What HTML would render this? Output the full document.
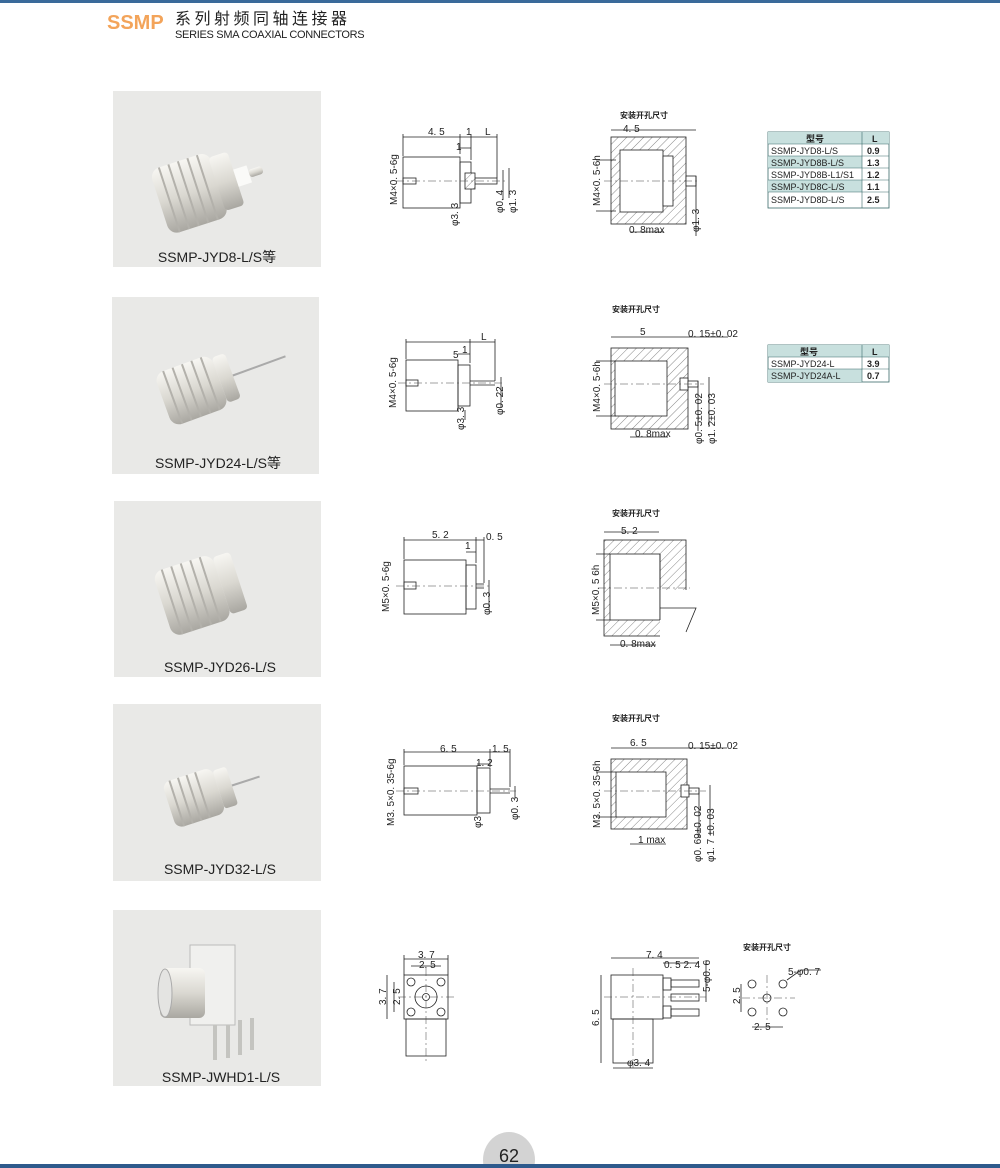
<!DOCTYPE html>
<html><head><meta charset="utf-8">
<style>
html,body{margin:0;padding:0;background:#fff;}
svg{display:block;}
text{font-family:"Liberation Sans","Noto Sans CJK SC",sans-serif;fill:#222;}
</style></head><body>
<svg width="1000" height="1168" viewBox="0 0 1000 1168" xmlns="http://www.w3.org/2000/svg">
<defs>
<pattern id="h" width="6" height="6" patternUnits="userSpaceOnUse" patternTransform="rotate(45)">
<rect width="6" height="6" fill="#fff"/><line x1="0" y1="0" x2="0" y2="6" stroke="#555" stroke-width="0.7"/></pattern>
<linearGradient id="met" x1="0" y1="0" x2="0" y2="1"><stop offset="0" stop-color="#f7f6f2"/><stop offset="0.5" stop-color="#dad8d1"/><stop offset="1" stop-color="#a9a7a1"/></linearGradient>
</defs>
<rect x="0" y="0" width="1000" height="3" fill="#3a6a9a"/>
<text x="107" y="29" font-size="20" font-weight="bold" style="fill:#f3a45a">SSMP</text>
<text x="175" y="24" font-size="16" letter-spacing="3.5">系列射频同轴连接器</text>
<text x="175" y="38" font-size="11" letter-spacing="-0.3">SERIES SMA  COAXIAL CONNECTORS</text>

<g>
<rect x="113" y="91" width="208" height="176" fill="#e9e9e7"/>
<rect x="112" y="297" width="207" height="177" fill="#e9e9e7"/>
<rect x="114" y="501" width="207" height="176" fill="#e9e9e7"/>
<rect x="113" y="704" width="208" height="177" fill="#e9e9e7"/>
<rect x="113" y="910" width="208" height="176" fill="#e9e9e7"/>
</g>
<g transform="translate(215,185) rotate(-18)">
<rect x="-58" y="-34" width="62" height="68" rx="10" fill="url(#met)"/>
<rect x="2" y="-28" width="20" height="56" rx="4" fill="url(#met)"/>
<rect x="22" y="-9" width="14" height="18" fill="#fafaf8"/><rect x="36" y="-4" width="14" height="8" rx="3" fill="url(#met)"/>
<g stroke="#b3b1ab" stroke-width="2" fill="none"><path d="M-48 -34v68M-38 -34v68M-28 -34v68M-18 -34v68M-8 -34v68"/></g>
</g>
<g transform="translate(215,382) rotate(-20)">
<rect x="-55" y="-28" width="60" height="56" rx="10" fill="url(#met)"/>
<rect x="5" y="-24" width="14" height="48" rx="4" fill="url(#met)"/>
<line x1="19" y1="0" x2="75" y2="0" stroke="#aaa" stroke-width="2"/>
<g stroke="#b3b1ab" stroke-width="2" fill="none"><path d="M-45 -28v56M-35 -28v56M-25 -28v56M-15 -28v56M-5 -28v56"/></g>
</g>
<g transform="translate(215,588) rotate(-18)">
<rect x="-55" y="-34" width="62" height="68" rx="10" fill="url(#met)"/>
<rect x="7" y="-30" width="18" height="60" rx="4" fill="url(#met)"/>
<g stroke="#b3b1ab" stroke-width="2" fill="none"><path d="M-45 -34v68M-35 -34v68M-25 -34v68M-15 -34v68M-5 -34v68"/></g>
</g>
<g transform="translate(212,792) rotate(-18)">
<rect x="-45" y="-24" width="52" height="48" rx="8" fill="url(#met)"/>
<rect x="7" y="-20" width="14" height="40" rx="3" fill="url(#met)"/>
<line x1="21" y1="0" x2="50" y2="0" stroke="#aaa" stroke-width="2"/>
<g stroke="#b3b1ab" stroke-width="2" fill="none"><path d="M-37 -24v48M-28 -24v48M-19 -24v48M-10 -24v48"/></g>
</g>
<g>
<rect x="190" y="945" width="45" height="80" fill="#f0f0ee" stroke="#bbb"/>
<rect x="160" y="968" width="45" height="50" rx="6" fill="url(#met)"/>
<ellipse cx="165" cy="993" rx="7" ry="24" fill="#e4e4e2" stroke="#aaa"/>
<g stroke="#c4c4c0" stroke-width="4"><line x1="215" y1="1025" x2="215" y2="1060"/><line x1="228" y1="1025" x2="228" y2="1058"/><line x1="240" y1="1020" x2="240" y2="1055"/><line x1="252" y1="1018" x2="252" y2="1050"/></g>
</g>
<g font-size="14" text-anchor="middle">
<text x="217" y="262">SSMP-JYD8-L/S等</text>
<text x="218" y="468">SSMP-JYD24-L/S等</text>
<text x="220" y="672">SSMP-JYD26-L/S</text>
<text x="220" y="874">SSMP-JYD32-L/S</text>
<text x="221" y="1082">SSMP-JWHD1-L/S</text>
</g>

<g fill="none" stroke="#222" stroke-width="0.8">
<rect x="403" y="157" width="57" height="51"/>
<rect x="403" y="178" width="13" height="6"/>
<rect x="460" y="162" width="11" height="41"/>
<rect x="471" y="178" width="26" height="6"/>
<rect x="465" y="173" width="10" height="16" fill="url(#h)"/>
<path d="M403 137h94M403 134v22M460 134v20M471 134v26M497 134v44M460 148h11M503 170v30M509 168v30"/>
<rect x="611" y="137" width="75" height="87" fill="url(#h)"/>
<rect x="620" y="150" width="43" height="62" fill="#fff"/>
<rect x="663" y="156" width="10" height="50" fill="#fff"/>
<rect x="686" y="176" width="10" height="10" fill="#fff"/>
<path d="M611 130h75M686 130h10M596 160h20M596 211h20M630 232h34M696 176v60"/>
<rect x="406" y="360" width="52" height="51"/>
<rect x="406" y="380" width="12" height="6"/>
<rect x="458" y="365" width="12" height="41"/>
<line x1="470" y1="381" x2="495" y2="381"/><line x1="470" y1="385" x2="495" y2="385"/>
<path d="M406 342h89M406 339v20M470 339v24M495 339v42M458 354h12M501 377v30M465 410v10"/>
<rect x="611" y="348" width="77" height="81" fill="url(#h)"/>
<rect x="615" y="361" width="52" height="55" fill="#fff"/>
<rect x="680" y="378" width="8" height="12" fill="#fff"/>
<rect x="688" y="381" width="10" height="6" fill="#fff"/>
<path d="M611 337h77M688 337h40M596 361h20M596 416h20M630 437h38M698 381v50M709 377v50"/>
<rect x="404" y="560" width="62" height="54"/>
<rect x="404" y="582" width="12" height="7"/>
<rect x="466" y="565" width="10" height="44"/>
<line x1="476" y1="584" x2="484" y2="584"/><line x1="476" y1="588" x2="484" y2="588"/>
<path d="M404 540h80M404 537v22M476 537v26M484 537v46M466 552h10M489 580v30"/>
<rect x="604" y="540" width="82" height="96" fill="url(#h)"/>
<rect x="610" y="554" width="50" height="66" fill="#fff"/>
<rect x="660" y="590" width="30" height="50" fill="#fff" stroke="none"/>
<path d="M660 608h36l-10 24M660 554v66M604 532h55M596 554h14M596 620h14M610 645h46"/>
<rect x="404" y="766" width="73" height="49"/>
<rect x="404" y="788" width="14" height="6"/>
<rect x="477" y="768" width="13" height="45"/>
<line x1="490" y1="789" x2="510" y2="789"/><line x1="490" y1="793" x2="510" y2="793"/>
<path d="M404 752h106M404 749v16M490 749v18M510 749v38M477 764h13M515 786v12"/>
<rect x="611" y="759" width="76" height="70" fill="url(#h)"/>
<rect x="616" y="772" width="50" height="45" fill="#fff"/>
<rect x="681" y="785" width="8" height="12" fill="#fff"/>
<rect x="689" y="788" width="10" height="6" fill="#fff"/>
<path d="M611 748h76M687 748h40M596 772h20M596 817h20M630 844h36M699 788v50M710 785v50"/>
<rect x="404" y="975" width="44" height="44"/>
<rect x="406" y="1019" width="40" height="37"/>
<circle cx="426" cy="997" r="11"/><circle cx="426" cy="997" r="3.5"/>
<circle cx="411" cy="982" r="4"/><circle cx="441" cy="982" r="4"/><circle cx="411" cy="1012" r="4"/><circle cx="441" cy="1012" r="4"/>
<path d="M404 959h44M411 966h30M387 975v44M394 982v30M404 955v20M448 955v20"/>
<rect x="611" y="975" width="52" height="44"/>
<rect x="613" y="1019" width="40" height="44"/>
<rect x="663" y="978" width="8" height="12"/><rect x="663" y="1006" width="8" height="12"/>
<rect x="671" y="980" width="28" height="7"/><rect x="671" y="994" width="28" height="7"/><rect x="671" y="1009" width="28" height="7"/>
<path d="M611 958h88M663 963h36M601 975v88M613 1068h40M706 960v42"/>
<circle cx="752" cy="984" r="4"/><circle cx="783" cy="984" r="4"/><circle cx="767" cy="998" r="4"/><circle cx="752" cy="1012" r="4"/><circle cx="783" cy="1012" r="4"/>
<path d="M741 984v28M752 1027h31M787 980l14-10h20"/>
</g>
<g stroke="#444" stroke-width="0.5" stroke-dasharray="8 3 2 3">
<line x1="396" y1="181" x2="505" y2="181"/><line x1="604" y1="181" x2="700" y2="181"/>
<line x1="398" y1="383" x2="503" y2="383"/><line x1="604" y1="384" x2="704" y2="384"/>
<line x1="396" y1="586" x2="490" y2="586"/><line x1="598" y1="588" x2="690" y2="588"/>
<line x1="396" y1="791" x2="518" y2="791"/><line x1="604" y1="791" x2="706" y2="791"/>
<line x1="398" y1="997" x2="456" y2="997"/><line x1="426" y1="968" x2="426" y2="1062"/>
<line x1="604" y1="997" x2="706" y2="997"/><line x1="633" y1="968" x2="633" y2="1068"/>
<line x1="742" y1="998" x2="795" y2="998"/><line x1="767" y1="975" x2="767" y2="1022"/>
</g>

<g font-size="10">
<text x="428" y="135">4. 5</text><text x="466" y="135">1</text><text x="485" y="135">L</text><text x="456" y="150">1</text>
<text x="453" y="358">5</text><text x="481" y="340">L</text><text x="462" y="353">1</text>
<text x="432" y="538">5. 2</text><text x="465" y="549">1</text><text x="486" y="540">0. 5</text>
<text x="440" y="752">6. 5</text><text x="492" y="752">1. 5</text><text x="476" y="766">1. 2</text>
<text x="418" y="958">3. 7</text><text x="419" y="968">2. 5</text>
<text x="623" y="132">4. 5</text><text x="629" y="233">0. 8max</text>
<text x="640" y="335">5</text><text x="688" y="337">0. 15±0. 02</text><text x="635" y="437">0. 8max</text>
<text x="621" y="534">5. 2</text><text x="620" y="647">0. 8max</text>
<text x="630" y="746">6. 5</text><text x="688" y="749">0. 15±0. 02</text><text x="638" y="843">1  max</text>
<text x="646" y="958">7. 4</text><text x="664" y="968">0. 5 2. 4</text><text x="627" y="1066">φ3. 4</text>
<text x="754" y="1030">2. 5</text><text x="788" y="975">5-φ0. 7</text>
</g>
<g font-size="10">
<text transform="translate(397,205) rotate(-90)">M4×0. 5-6g</text>
<text transform="translate(458,226) rotate(-90)">φ3. 3</text>
<text transform="translate(503,213) rotate(-90)">φ0. 4</text>
<text transform="translate(516,213) rotate(-90)">φ1. 3</text>
<text transform="translate(600,206) rotate(-90)">M4×0. 5-6h</text>
<text transform="translate(699,232) rotate(-90)">φ1. 3</text>
<text transform="translate(396,408) rotate(-90)">M4×0. 5-6g</text>
<text transform="translate(464,430) rotate(-90)">φ3. 3</text>
<text transform="translate(503,415) rotate(-90)">φ0. 22</text>
<text transform="translate(600,412) rotate(-90)">M4×0. 5-6h</text>
<text transform="translate(702,444) rotate(-90)">φ0. 5±0. 02</text>
<text transform="translate(715,444) rotate(-90)">φ1. 2±0. 03</text>
<text transform="translate(389,612) rotate(-90)">M5×0. 5-6g</text>
<text transform="translate(490,615) rotate(-90)">φ0. 3</text>
<text transform="translate(599,615) rotate(-90)">M5×0. 5 6h</text>
<text transform="translate(394,826) rotate(-90)">M3. 5×0. 35-6g</text>
<text transform="translate(481,828) rotate(-90)">φ3</text>
<text transform="translate(518,820) rotate(-90)">φ0. 3</text>
<text transform="translate(600,828) rotate(-90)">M3. 5×0. 35-6h</text>
<text transform="translate(701,862) rotate(-90)">φ0. 69±0. 02</text>
<text transform="translate(714,862) rotate(-90)">φ1. 7 ±0. 03</text>
<text transform="translate(386,1005) rotate(-90)">3. 7</text>
<text transform="translate(400,1005) rotate(-90)">2. 5</text>
<text transform="translate(599,1026) rotate(-90)">6. 5</text>
<text transform="translate(710,992) rotate(-90)">5-φ0. 6</text>
<text transform="translate(740,1004) rotate(-90)">2. 5</text>
</g>
<g font-size="8" font-weight="bold">
<text x="620" y="118">安装开孔尺寸</text><text x="612" y="312">安装开孔尺寸</text>
<text x="612" y="516">安装开孔尺寸</text><text x="612" y="721">安装开孔尺寸</text>
<text x="743" y="950">安装开孔尺寸</text>
</g>

<g font-size="9">
<rect x="768" y="132" width="121" height="76" fill="#fff" stroke="#3a6a6a" stroke-width="0.8"/>
<rect x="768" y="132" width="121" height="12" fill="#c8e0de"/>
<rect x="768" y="156" width="94" height="12" fill="#c8e0de"/>
<rect x="768" y="180" width="94" height="12" fill="#c8e0de"/>
<g stroke="#3a6a6a" stroke-width="0.6"><line x1="862" y1="132" x2="862" y2="208"/>
<line x1="768" y1="144" x2="889" y2="144"/><line x1="768" y1="156" x2="889" y2="156"/><line x1="768" y1="168" x2="889" y2="168"/><line x1="768" y1="180" x2="889" y2="180"/><line x1="768" y1="192" x2="889" y2="192"/></g>
<text x="806" y="142" font-weight="bold">型号</text><text x="872" y="142" font-weight="bold">L</text>
<text x="771" y="154">SSMP-JYD8-L/S</text><text x="867" y="154" font-weight="bold">0.9</text>
<text x="771" y="166">SSMP-JYD8B-L/S</text><text x="867" y="166" font-weight="bold">1.3</text>
<text x="771" y="178">SSMP-JYD8B-L1/S1</text><text x="867" y="178" font-weight="bold">1.2</text>
<text x="771" y="190">SSMP-JYD8C-L/S</text><text x="867" y="190" font-weight="bold">1.1</text>
<text x="771" y="203">SSMP-JYD8D-L/S</text><text x="867" y="203" font-weight="bold">2.5</text>

<rect x="768" y="345" width="121" height="37" fill="#fff" stroke="#3a6a6a" stroke-width="0.8"/>
<rect x="768" y="345" width="121" height="12" fill="#c8e0de"/>
<rect x="768" y="369" width="94" height="13" fill="#c8e0de"/>
<g stroke="#3a6a6a" stroke-width="0.6"><line x1="862" y1="345" x2="862" y2="382"/><line x1="768" y1="357" x2="889" y2="357"/><line x1="768" y1="369" x2="889" y2="369"/></g>
<text x="800" y="355" font-weight="bold">型号</text><text x="872" y="355" font-weight="bold">L</text>
<text x="771" y="367">SSMP-JYD24-L</text><text x="867" y="367" font-weight="bold">3.9</text>
<text x="771" y="379">SSMP-JYD24A-L</text><text x="867" y="379" font-weight="bold">0.7</text>
</g>

<ellipse cx="509" cy="1160" rx="26" ry="28" fill="#d3d3d3"/>
<text x="509" y="1162" font-size="18" text-anchor="middle">62</text>
<rect x="0" y="1164" width="1000" height="4" fill="#2e5a8c"/>
</svg>
</body></html>
